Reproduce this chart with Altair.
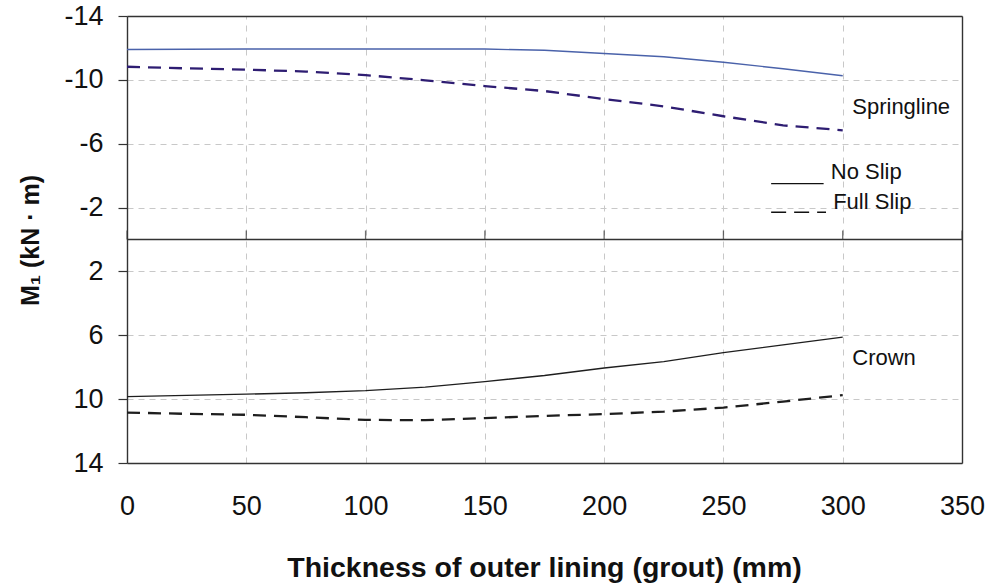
import altair as alt
import pandas as pd

# ---- data ----
thickness = [0, 25, 50, 75, 100, 125, 150, 175, 200, 225, 250, 275, 300]
spring_no_slip = [-11.90, -11.92, -11.93, -11.93, -11.93, -11.93, -11.93, -11.85, -11.65, -11.45, -11.10, -10.70, -10.26]
spring_full_slip = [-10.82, -10.72, -10.64, -10.52, -10.30, -9.97, -9.61, -9.30, -8.80, -8.34, -7.72, -7.15, -6.84]
crown_no_slip = [9.84, 9.76, 9.69, 9.60, 9.47, 9.25, 8.90, 8.52, 8.05, 7.65, 7.08, 6.60, 6.12]
crown_full_slip = [10.84, 10.92, 10.98, 11.13, 11.30, 11.32, 11.19, 11.05, 10.94, 10.78, 10.53, 10.15, 9.75]

x_ticks = [0, 50, 100, 150, 200, 250, 300, 350]
y_ticks = [-14, -10, -6, -2, 2, 6, 10, 14]

series_names = ["spring_no", "spring_full", "crown_no", "crown_full"]
series_values = [spring_no_slip, spring_full_slip, crown_no_slip, crown_full_slip]

rows = []
for name, vals in zip(series_names, series_values):
    for t, v in zip(thickness, vals):
        rows.append({"t": t, "m": v, "series": name})
df = pd.DataFrame(rows)

# annotations (data coordinates)
ann_text = ["Springline", "Crown", "No Slip", "Full Slip"]
ann_x = [304, 304, 295, 296]
ann_y = [-8.3, 7.4, -4.2, -2.35]
ann_df = pd.DataFrame({"label": ann_text, "x": ann_x, "y": ann_y})

leg_style = ["solid", "dashed"]
leg_x1 = [270, 270]
leg_x2 = [292, 293]
leg_y = [-3.5, -1.7]
leg_df = pd.DataFrame({"style": leg_style, "x": leg_x1, "x2": leg_x2, "y": leg_y})

zero_df = pd.DataFrame({"x": x_ticks, "y": [0] * len(x_ticks)})

FONT = "Liberation Sans, Arial, DejaVu Sans"
FRAME = "#333"

xscale = alt.Scale(domain=[0, 350], nice=False, zero=False)
yscale = alt.Scale(domain=[-14, 14], reverse=True, nice=False, zero=False)

x_bottom = alt.X(
    "t:Q", scale=xscale,
    axis=alt.Axis(
        values=x_ticks, orient="bottom", grid=True, gridDash=[6, 6], gridColor="#c8c8c8",
        gridWidth=1, ticks=False, domain=True, domainColor=FRAME, domainWidth=1.4,
        labelFont=FONT, labelFontSize=27, labelFlush=False, labelOverlap=False,
        labelColor="#111", labelPadding=43, labelBaseline="middle",
        title="Thickness of outer lining (grout) (mm)", titleFont=FONT, titleFontSize=28.5,
        titleFontWeight="bold", titleColor="#111", titleY=104, titleX=417,
        titleBaseline="middle", titleAlign="center",
    ),
)
y_left = alt.Y(
    "m:Q", scale=yscale,
    axis=alt.Axis(
        values=y_ticks, orient="left", grid=True, gridDash=[6, 5], gridColor="#c8c8c8", gridWidth=1,
        ticks=True, tickSize=9, tickColor=FRAME, tickWidth=1.2,
        domain=True, domainColor=FRAME, domainWidth=1.4,
        labelFont=FONT, labelFontSize=27, labelColor="#111", labelPadding=15,
        labelFlush=False, labelOverlap=False,
        labelExpr="'' + datum.value",
        title="M\u2081 (kN \u00b7 m)", titleFont=FONT, titleFontSize=25, titleFontWeight="bold",
        titleColor="#111", titleAngle=-90, titleX=-97, titleY=224,
        titleAlign="center", titleBaseline="middle",
    ),
)

x_none = alt.X("t:Q", scale=xscale, axis=None)
y_none = alt.Y("m:Q", scale=yscale, axis=None)


def line_layer(name, color, width, dash=None, with_axes=False):
    kw = dict(color=color, strokeWidth=width, clip=True)
    if dash is not None:
        kw["strokeDash"] = dash
    return alt.Chart(df).transform_filter(alt.datum.series == name).mark_line(**kw).encode(
        x=x_bottom if with_axes else x_none,
        y=y_left if with_axes else y_none,
    )


# zero line; its layer also carries the top and right frame lines
zero_line = alt.Chart(zero_df).mark_rule(color=FRAME, strokeWidth=1.3).encode(
    x=alt.X("min(x):Q", scale=xscale,
            axis=alt.Axis(orient="top", labels=False, ticks=False, grid=False, title=None,
                          domain=True, domainColor=FRAME, domainWidth=1.4)),
    x2="max(x):Q",
    y=alt.Y("min(y):Q", scale=yscale,
            axis=alt.Axis(orient="right", labels=False, ticks=False, grid=False, title=None,
                          domain=True, domainColor=FRAME, domainWidth=1.4)),
)

zero_ticks = alt.Chart(zero_df).mark_tick(
    orient="vertical", size=9, thickness=1.3, color=FRAME, yOffset=-4.5
).encode(
    x=alt.X("x:Q", scale=xscale, axis=None),
    y=alt.Y("y:Q", scale=yscale, axis=None),
)

legend_solid = alt.Chart(leg_df).transform_filter(alt.datum.style == "solid").mark_rule(
    color="#111", strokeWidth=1.3
).encode(x=alt.X("x:Q", scale=xscale, axis=None), x2="x2:Q",
         y=alt.Y("y:Q", scale=yscale, axis=None))
legend_dashed = alt.Chart(leg_df).transform_filter(alt.datum.style == "dashed").mark_rule(
    color="#111", strokeWidth=1.5, strokeDash=[15, 8]
).encode(x=alt.X("x:Q", scale=xscale, axis=None), x2="x2:Q",
         y=alt.Y("y:Q", scale=yscale, axis=None))

texts = alt.Chart(ann_df).mark_text(
    align="left", baseline="middle", font=FONT, fontSize=22, color="#111"
).encode(
    x=alt.X("x:Q", scale=xscale, axis=None),
    y=alt.Y("y:Q", scale=yscale, axis=None),
    text="label:N",
)

chart = alt.layer(
    line_layer("spring_no", "#4a62aa", 1.4, with_axes=True),
    line_layer("spring_full", "#2e1d72", 2.3, [13, 8]),
    line_layer("crown_no", "#1e1e1e", 1.3),
    line_layer("crown_full", "#1e1e1e", 2.3, [13, 8]),
    zero_line,
    zero_ticks,
    legend_solid,
    legend_dashed,
    texts,
).resolve_axis(x="independent", y="independent").properties(
    width=835, height=447,
    autosize=alt.AutoSizeParams(type="none"),
    padding={"left": 127, "top": 16, "right": 28, "bottom": 122},
).configure_view(
    stroke=None
).configure(background="white")

chart.save("out.html", embed_options={"renderer": "svg", "actions": False})
